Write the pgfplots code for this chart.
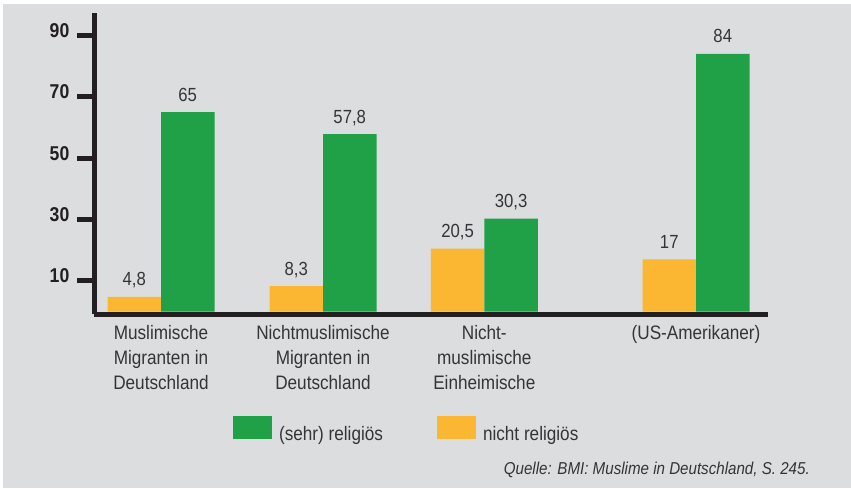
\documentclass[border=0pt]{standalone}
\usepackage{fontspec}
\setmainfont{Liberation Sans}[FakeStretch=0.88]
\usepackage{pgfplots}
\pgfplotsset{compat=1.18}
\definecolor{bg}{HTML}{DCDDDF}
\definecolor{grn}{HTML}{21A147}
\definecolor{org}{HTML}{FBB731}
\definecolor{axc}{HTML}{231F20}
\definecolor{txt}{HTML}{353537}
\begin{document}
\begin{tikzpicture}[x=1pt,y=1pt]
\fill[white] (0,0) rectangle (851,-488);
\fill[bg] (3.3,-4) rectangle (851,-488);
\begin{axis}[
  at={(94pt,-314pt)}, anchor=south west,
  scale only axis, width=673.7pt, height=300.7pt,
  xmin=94, xmax=767.7, ymin=-0.815, ymax=97.2,
  axis x line=bottom, axis y line=left,
  axis line style={-, line width=5pt, color=axc},
  /pgf/number format/assume math mode=true,
  ytick={10,30,50,70,90},
  ytick pos=left, tick align=outside, major tick length=17pt,
  ytick style={line width=5pt, color=axc},
  yticklabel style={font=\bfseries\fontsize{20}{20}\selectfont, color=axc, anchor=base east, inner sep=0pt, xshift=-7.5pt, yshift=-2pt},
  xtick={161,323,484.3,696},
  xtick style={draw=none},
  xticklabels={{Muslimische\\Migranten in\\Deutschland},{Nichtmuslimische\\Migranten in\\Deutschland},{Nicht-\\muslimische\\Einheimische},{(US-Amerikaner)}},
  xticklabel style={font=\fontsize{19.5}{25}\selectfont, color=txt, align=center, anchor=north, inner sep=0pt, yshift=6pt},
  ybar, bar width=53.5pt,
  nodes near coords={\pgfmathprintnumber[use comma]{\pgfplotspointmeta}},
  nodes near coords style={font=\fontsize{19}{20}\selectfont, color=txt, anchor=base, inner sep=0pt, yshift=11pt},
  legend columns=2,
  legend style={at={(axis description cs:0.206,-0.383)}, anchor=west, draw=none, fill=none, inner sep=0pt, outer sep=0pt,
    font=\fontsize{19.5}{22}\selectfont, text=txt,
    nodes={inner sep=0pt},
    /tikz/every odd column/.append style={column sep=7.3pt},
    /tikz/every even column/.append style={column sep=53.7pt}},
  legend image code/.code={\path[#1] (0pt,-5pt) rectangle (39pt,18pt);},
]
\addplot[ybar, bar shift=-26.75pt, fill=org, draw=none, forget plot] coordinates {(161,4.8) (323,8.3) (484.3,20.5) (696,17)};
\addplot[ybar, bar shift=26.75pt, fill=grn, draw=none] coordinates {(161,65) (323,57.8) (484.3,30.3) (696,84)};
\addlegendentry{(sehr) religiös}
\addlegendimage{ybar, fill=org, draw=none}
\addlegendentry{nicht religiös}
\end{axis}
\node[anchor=base east, inner sep=0pt, font=\itshape\fontsize{17.2}{20}\selectfont, text=txt] at (810,-474.3) {Quelle: BMI: Muslime in Deutschland, S. 245.};
\end{tikzpicture}
\end{document}
